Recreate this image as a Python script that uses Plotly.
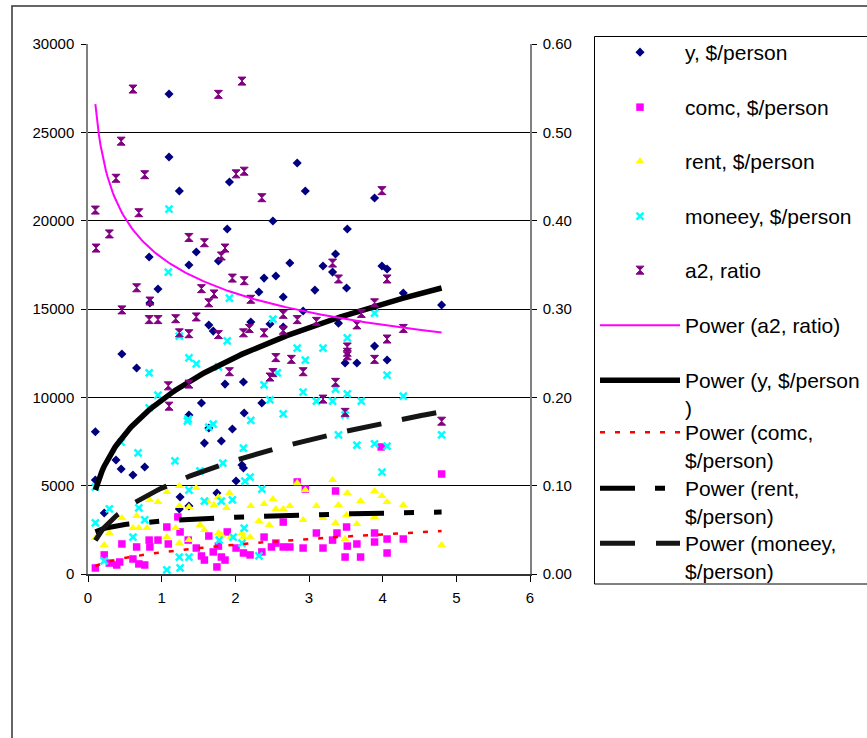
import numpy as np
import plotly.graph_objects as go

# ---------------- data ----------------
y_x = [0.10, 0.10, 0.22, 0.38, 0.45, 0.61, 0.77, 0.46, 0.66, 0.83, 0.84, 0.95, 1.10, 1.10, 1.24,
       1.37, 1.47, 1.64, 1.70, 1.77, 1.89, 1.92, 2.51, 2.84, 2.21, 2.32, 2.39, 2.55, 2.65, 2.74,
       2.47, 2.65, 1.86, 2.11, 2.36, 1.54, 1.37, 2.12, 1.64, 1.58, 1.81, 1.96, 2.01, 2.09, 2.11,
       1.75, 1.25, 1.24, 1.37, 3.52, 3.19, 3.36, 3.32, 3.08, 3.51, 3.99, 4.06, 4.28, 4.80, 2.92,
       3.40, 3.89, 3.49, 3.65, 4.06, 2.95, 3.89]
y_val = [8050, 5320, 3450, 6450, 5940, 5600, 6060, 12450, 11660, 17940, 15340, 16130, 27170, 23600, 21680,
         17490, 18230, 14090, 13750, 17720, 19530, 22190, 19980, 23260, 14260, 15960, 16750, 16870, 15680, 17600,
         14150, 13980, 10750, 10870, 9680, 9680, 9000, 9110, 8260, 7410, 7530, 8210, 5260, 6170, 6000,
         4580, 4360, 3680, 3850, 19530, 17430, 18110, 17090, 16070, 16190, 17430, 17260, 15900, 15230, 14890,
         14200, 12900, 11940, 11940, 12110, 21680, 21280]

comc_x = [2.84, 1.22, 1.07, 1.25, 0.46, 0.66, 0.83, 0.84, 0.95, 1.09, 1.36, 1.47, 1.64, 1.89, 1.77,
          1.70, 1.54, 1.58, 1.81, 1.86, 1.75, 2.01, 2.11, 2.20, 2.39, 2.49, 2.55, 2.65, 2.74, 2.65,
          2.36, 0.61, 0.69, 0.77, 0.39, 0.43, 0.29, 0.22, 0.10, 3.98, 4.80, 2.95, 3.36, 3.51, 3.10,
          3.38, 3.89, 2.92, 3.19, 3.32, 3.52, 3.65, 3.89, 4.06, 4.28, 3.49, 3.70, 4.06]
comc_val = [5210, 3230, 2660, 2380, 1700, 1530, 1920, 1530, 1920, 1700, 1920, 1470, 2150, 2380, 1580,
            1250, 1020, 790, 960, 790, 400, 1470, 1190, 1080, 2090, 1530, 1750, 1530, 1530, 2940,
            1250, 850, 570, 510, 510, 680, 620, 1080, 340, 7190, 5660, 4810, 4700, 2660, 2320,
            2320, 2320, 1470, 1470, 1920, 1580, 1700, 1810, 1980, 1980, 960, 960, 1190]

rent_x = [1.24, 1.47, 1.07, 0.84, 0.95, 1.24, 1.37, 1.62, 1.71, 1.77, 1.92, 1.88, 2.21, 2.39, 2.51,
          2.55, 2.65, 2.74, 2.84, 2.32, 2.46, 0.66, 0.46, 0.61, 0.69, 0.80, 0.29, 0.22, 0.10, 1.07,
          1.19, 1.24, 1.37, 1.52, 1.58, 1.77, 1.81, 1.94, 2.09, 2.11, 2.20, 3.32, 2.95, 3.52, 3.89,
          3.99, 3.70, 4.06, 4.28, 3.10, 3.40, 3.19, 3.51, 2.92, 3.36, 3.65, 3.89, 3.49, 4.80]
rent_val = [4980, 4870, 4640, 4190, 4080, 3850, 3790, 4130, 3910, 4360, 4580, 3740, 3850, 3960, 4250,
            3680, 3680, 3850, 5150, 3000, 2770, 3280, 3170, 2600, 2600, 2600, 2320, 1640, 2040, 2090,
            2600, 1750, 1920, 2770, 2490, 2320, 2210, 2090, 2320, 2090, 2090, 5320, 4750, 4580, 4700,
            4410, 4130, 4080, 3910, 3850, 3910, 3170, 3340, 3060, 2890, 2830, 3230, 1980, 1640]

moneey_x = [1.10, 1.09, 1.92, 2.51, 1.24, 1.89, 2.84, 1.37, 1.47, 0.83, 1.77, 2.57, 2.39, 0.95, 2.47,
            2.65, 0.83, 1.36, 2.21, 3.89, 3.52, 3.19, 2.95, 4.06, 2.92, 3.36, 3.52, 4.28, 3.10, 3.32,
            3.71, 3.49, 4.80, 3.65, 3.89, 4.06, 3.99, 3.40, 1.35, 1.64, 1.70, 0.45, 0.68, 1.18, 2.11,
            1.52, 1.83, 2.13, 2.20, 1.37, 1.58, 1.81, 1.96, 2.36, 0.69, 0.77, 0.29, 0.10, 0.61, 0.22,
            1.07, 1.25, 1.24, 1.37, 1.78, 1.97, 2.09, 2.12, 2.32, 0.10]
moneey_val = [20660, 17090, 15620, 14430, 13470, 13190, 12790, 12230, 11890, 11380, 11720, 11380, 10700, 10130, 9850,
              9060, 9400, 8770, 8700, 14770, 13360, 12790, 12110, 11260, 10300, 10470, 10190, 10070, 9790, 9790,
              9790, 9000, 7870, 7300, 7360, 7240, 5770, 7870, 8660, 8320, 8490, 7470, 6850, 6400, 7130,
              5830, 6280, 5260, 5490, 4750, 4130, 4130, 4190, 4810, 3740, 3060, 3680, 2890, 2090, 740,
              230, 340, 960, 960, 1920, 2090, 1750, 2600, 1020, 4920]

a2_x = [0.10, 0.61, 0.45, 0.38, 0.77, 0.69, 1.77, 2.09, 2.01, 2.12, 2.36, 3.99, 0.11, 0.29, 0.46,
        0.66, 0.84, 0.83, 0.95, 1.19, 1.24, 1.37, 1.37, 1.58, 1.54, 1.47, 1.64, 1.71, 1.81, 1.86,
        1.96, 2.12, 2.21, 1.77, 2.11, 2.19, 2.39, 2.65, 2.84, 2.55, 2.76, 2.65, 2.47, 2.51, 1.92,
        1.09, 1.37, 1.10, 3.32, 3.40, 4.06, 3.89, 3.71, 3.10, 3.65, 4.28, 4.06, 3.52, 3.52, 3.52,
        3.89, 2.92, 3.36, 3.19, 3.49, 4.80]
a2_val = [0.412, 0.549, 0.490, 0.448, 0.452, 0.409, 0.543, 0.558, 0.453, 0.456, 0.426, 0.434, 0.369, 0.385, 0.299,
          0.324, 0.309, 0.288, 0.288, 0.289, 0.273, 0.272, 0.381, 0.375, 0.323, 0.291, 0.307, 0.317, 0.360, 0.369,
          0.335, 0.332, 0.311, 0.271, 0.273, 0.278, 0.273, 0.294, 0.288, 0.245, 0.243, 0.276, 0.223, 0.228, 0.229,
          0.213, 0.215, 0.190, 0.352, 0.334, 0.334, 0.307, 0.295, 0.286, 0.282, 0.278, 0.266, 0.257, 0.251, 0.247,
          0.243, 0.229, 0.217, 0.198, 0.183, 0.173]

# power trendline coefficients (value = a * x ** b)
trend_a2 = [0.358, -0.172]
trend_y = [9853, 0.3165]
trend_comc = [1232, 0.434]
trend_rent = [3000, 0.100]
trend_moneey = [4860, 0.406]

x_ticks = [0, 1, 2, 3, 4, 5, 6]
y_ticks = [0, 5000, 10000, 15000, 20000, 25000, 30000]
y2_ticks = [0.0, 0.1, 0.2, 0.3, 0.4, 0.5, 0.6]

FONT = "Arial, Liberation Sans, sans-serif"

# ---------------- layout geometry (pixels) ----------------
W, H = 867, 738
PL, PR, PT, PB = 88, 530, 44, 574          # plot area edges


def px_x(px):
    return (px - PL) / (PR - PL)


def px_y(py):
    return (PB - py) / (PB - PT)


def trend(xs, coef, n=200):
    xx = np.linspace(min(xs), max(xs), n)
    return xx, coef[0] * xx ** coef[1]


fig = go.Figure()

# scatter series
fig.add_trace(go.Scatter(x=y_x, y=y_val, mode="markers", name="y, $/person", legend="legend",
                         marker=dict(symbol="diamond", size=7, color="#000080")))
fig.add_trace(go.Scatter(x=comc_x, y=comc_val, mode="markers", name="comc, $/person", legend="legend2",
                         marker=dict(symbol="square", size=7.5, color="#FF00FF")))
fig.add_trace(go.Scatter(x=rent_x, y=rent_val, mode="markers", name="rent, $/person", legend="legend3",
                         marker=dict(symbol="triangle-up", size=8, color="#FFFF00")))
fig.add_trace(go.Scatter(x=moneey_x, y=moneey_val, mode="markers", name="moneey, $/person", legend="legend4",
                         marker=dict(symbol="x-thin", size=7, color="#00FFFF",
                                     line=dict(width=2.5, color="#00FFFF"))))

# power trendlines on the primary axis
tx, ty = trend(y_x, trend_y)
fig.add_trace(go.Scatter(x=tx, y=ty, mode="lines", name="Power (y, $/person<br>)", legend="legend7",
                         line=dict(color="#000000", width=5.5)))
tx, ty = trend(comc_x, trend_comc)
fig.add_trace(go.Scatter(x=tx, y=ty, mode="lines", name="Power (comc,<br>$/person)", legend="legend8",
                         line=dict(color="#FF0000", width=2.5, dash="5px,10px")))
tx, ty = trend(rent_x, trend_rent)
fig.add_trace(go.Scatter(x=tx, y=ty, mode="lines", name="Power (rent,<br>$/person)", legend="legend9",
                         line=dict(color="#000000", width=5, dash="35px,20px,10px,20px")))
tx, ty = trend(moneey_x, trend_moneey)
fig.add_trace(go.Scatter(x=tx, y=ty, mode="lines", name="Power (moneey,<br>$/person)", legend="legend10",
                         line=dict(color="#151515", width=5, dash="35px,21px")))

# secondary axis series
fig.add_trace(go.Scatter(x=a2_x, y=a2_val, mode="markers", name="a2, ratio", yaxis="y2", legend="legend5",
                         marker=dict(symbol="hourglass", size=8, color="#800080",
                                     line=dict(width=1, color="#800080"))))
tx, ty = trend(a2_x, trend_a2)
fig.add_trace(go.Scatter(x=tx, y=ty, mode="lines", name="Power (a2, ratio)", yaxis="y2", legend="legend6",
                         line=dict(color="#FF00FF", width=2)))

# one legend per entry so each sits where the original places it
LEG_LEFT = 595
entry_centres = {"legend": 52, "legend2": 107, "legend3": 161, "legend4": 216, "legend5": 270,
                 "legend6": 325, "legend7": 380, "legend8": 432, "legend9": 488, "legend10": 543}
legends = {}
for key, cy in entry_centres.items():
    legends[key] = dict(
        x=px_x(LEG_LEFT), xanchor="left",
        y=px_y(cy - 20), yanchor="top",
        bgcolor="rgba(0,0,0,0)", borderwidth=0,
        font=dict(family=FONT, size=21, color="black"),
        itemwidth=80, valign="top",
    )

fig.update_layout(
    width=W, height=H,
    margin=dict(l=PL, r=W - PR, t=PT, b=H - PB, autoexpand=False),
    paper_bgcolor="white", plot_bgcolor="white",
    font=dict(family=FONT, size=15, color="black"),
    showlegend=True,
    **legends,
    xaxis=dict(range=[0, 6], tickvals=x_ticks, ticks="outside", ticklen=6, tickcolor="#000",
               showgrid=False, zeroline=False, showline=True, linecolor="#333", linewidth=1.5,
               tickfont=dict(size=15), ticklabelstandoff=3),
    yaxis=dict(range=[0, 30000], tickvals=y_ticks, tickformat="d", ticks="outside", ticklen=5,
               tickcolor="#000", showgrid=True, gridcolor="#000", gridwidth=1, zeroline=False,
               showline=True, linecolor="#808080", linewidth=1.5, tickfont=dict(size=15),
               ticklabelstandoff=4),
    yaxis2=dict(range=[0, 0.6], tickvals=y2_ticks, tickformat=".2f", overlaying="y", side="right",
                ticks="outside", ticklen=5, tickcolor="#000", showgrid=False, zeroline=False,
                showline=True, linecolor="#808080", linewidth=1.5, tickfont=dict(size=15),
                ticklabelstandoff=3),
    shapes=[
        # outer chart frame
        dict(type="rect", xref="paper", yref="paper",
             x0=px_x(12), x1=px_x(900), y0=px_y(770), y1=px_y(6),
             line=dict(color="#333", width=1.5), fillcolor="rgba(0,0,0,0)", layer="below"),
        # legend box
        dict(type="rect", xref="paper", yref="paper",
             x0=px_x(594.5), x1=px_x(900), y0=px_y(584), y1=px_y(36.5),
             line=dict(color="black", width=1), fillcolor="white", layer="below"),
    ],
)

fig.write_html("out.html", config={"displayModeBar": False},
               post_script="document.body.style.margin='0px';")
